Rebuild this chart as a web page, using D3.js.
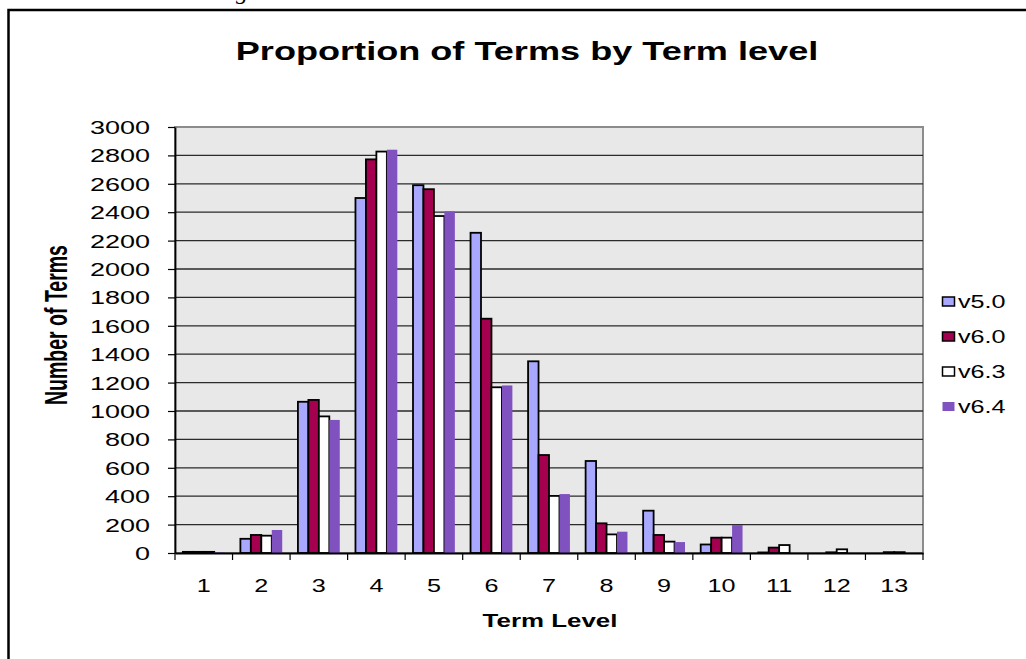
<!DOCTYPE html>
<html>
<head>
<meta charset="utf-8">
<script src="https://cdn.jsdelivr.net/npm/d3@7"></script>
<style>
  html, body { margin: 0; padding: 0; background: #ffffff; }
  svg { display: block; font-family: Arial, "Liberation Sans", sans-serif; }
</style>
</head>
<body>
<svg id="chart" width="1026" height="659"></svg>
<script>
// ---- data ----
const levels = ["1","2","3","4","5","6","7","8","9","10","11","12","13"];
const seriesNames = ["v5.0","v6.0","v6.3","v6.4"];
const v50 = [8, 100, 1065, 2500, 2590, 2255, 1350, 648, 298, 60, 4, 0, 0];
const v60 = [8, 127, 1078, 2772, 2562, 1650, 690, 209, 127, 108, 38, 5, 6];
const v63 = [8, 122, 962, 2827, 2373, 1167, 402, 131, 80, 108, 56, 26, 6];
const v64 = [4, 162, 937, 2840, 2406, 1180, 415, 150, 77, 197, 0, 0, 0];
const yTicks = [0,200,400,600,800,1000,1200,1400,1600,1800,2000,2200,2400,2600,2800,3000];
const titleText = "Proportion of Terms by Term level";
const xTitle = "Term Level";
const yTitle = "Number of Terms";

const seriesValues = [v50, v60, v63, v64];
const colors = ["#a8a8ff", "#a5004f", "#ffffff", "#8052bf"];
const outlined = [true, true, true, false];

const SX = 1.4;   // horizontal stretch of the reference picture's text
const SXT = 1.5;  // stretch for y tick labels

const svg = d3.select("#chart");

// outer frame (extends past the window)
svg.append("rect")
  .attr("x", 8.5).attr("y", 10).attr("width", 1100).attr("height", 700)
  .attr("fill", "none").attr("stroke", "#000").attr("stroke-width", 2.5);

// clipped caption letter at top
svg.append("text")
  .attr("transform", "translate(236,-1) scale(1.2,1)")
  .attr("font-family", "'Liberation Serif', 'DejaVu Serif', serif")
  .attr("font-style", "italic")
  .attr("font-size", 20)
  .text("g");

const plot = { left: 175, right: 923, top: 127, bottom: 553 };

const x = d3.scaleBand().domain(levels)
  .range([plot.left, plot.right])
  .paddingInner(1.5 / 5.5).paddingOuter(0.75 / 5.5);
const xb = d3.scaleBand().domain(levels).range([plot.left, plot.right]).padding(0);
const xs = d3.scaleBand().domain(seriesNames).range([0, x.bandwidth()]).padding(0);
const y = d3.scaleLinear().domain([0, 3000]).range([plot.bottom, plot.top]);

// plot background
svg.append("rect")
  .attr("x", plot.left).attr("y", plot.top)
  .attr("width", plot.right - plot.left).attr("height", plot.bottom - plot.top)
  .attr("fill", "#e8e8e8").attr("stroke", "#8c8c8c").attr("stroke-width", 2);

// gridlines
svg.append("g").selectAll("line")
  .data(yTicks.filter(t => t > 0 && t < 3000))
  .join("line")
  .attr("x1", plot.left).attr("x2", plot.right)
  .attr("y1", d => y(d)).attr("y2", d => y(d))
  .attr("stroke", "#2a2a2a").attr("stroke-width", 1.3);

// bars
const groups = svg.append("g").selectAll("g")
  .data(seriesNames)
  .join("g");
groups.each(function(name, si) {
  const data = levels.map((lv, i) => ({ lv, v: seriesValues[si][i] })).filter(d => d.v > 0);
  d3.select(this).selectAll("rect")
    .data(data)
    .join("rect")
    .attr("x", d => x(d.lv) + xs(name))
    .attr("width", xs.bandwidth())
    .attr("y", d => y(d.v))
    .attr("height", d => y(0) - y(d.v))
    .attr("fill", colors[si])
    .attr("stroke", outlined[si] ? "#000" : "none")
    .attr("stroke-width", 1.8);
});

// y axis
const yAxis = svg.append("g")
  .attr("transform", `translate(${plot.left},0)`)
  .call(d3.axisLeft(y).tickValues(yTicks).tickSize(7).tickSizeOuter(0).tickFormat(d3.format("d")));
yAxis.select(".domain").attr("stroke", "#000").attr("stroke-width", 1.8);
yAxis.selectAll(".tick line").attr("stroke", "#000").attr("stroke-width", 1.2);
yAxis.selectAll(".tick text")
  .attr("font-size", 18).attr("fill", "#000")
  .attr("font-family", "Arial, 'Liberation Sans', sans-serif")
  .attr("x", -25 / SXT).attr("dy", "0.36em")
  .attr("transform", `scale(${SXT},1)`);

// x axis
const xAxis = svg.append("g")
  .attr("transform", `translate(0,${plot.bottom})`)
  .call(d3.axisBottom(xb).tickSize(0).tickSizeOuter(0));
xAxis.select(".domain").attr("stroke", "#000").attr("stroke-width", 1.8);
xAxis.selectAll(".tick text")
  .attr("font-size", 18).attr("fill", "#000")
  .attr("font-family", "Arial, 'Liberation Sans', sans-serif")
  .attr("y", 0).attr("dy", 0)
  .attr("transform", `translate(0,39) scale(${SX},1)`);
// category boundary tick marks
svg.append("g").selectAll("line")
  .data(levels.concat(["end"]))
  .join("line")
  .attr("x1", (d, i) => i < levels.length ? xb(d) : plot.right)
  .attr("x2", (d, i) => i < levels.length ? xb(d) : plot.right)
  .attr("y1", plot.bottom).attr("y2", plot.bottom + 7)
  .attr("stroke", "#000").attr("stroke-width", 1.2);

// title
svg.append("text")
  .attr("transform", `translate(527,60) scale(${SX},1)`)
  .attr("text-anchor", "middle")
  .attr("font-size", 25.8).attr("font-weight", "bold")
  .text(titleText);

// x title
svg.append("text")
  .attr("transform", `translate(550,627) scale(${SX},1)`)
  .attr("text-anchor", "middle")
  .attr("font-size", 18.5).attr("font-weight", "bold")
  .text(xTitle);

// y title
svg.append("text")
  .attr("transform", `translate(67,325) scale(1.6,1) rotate(-90)`)
  .attr("text-anchor", "middle")
  .attr("font-size", 19.5).attr("font-weight", "bold")
  .text(yTitle);

// legend
const legend = svg.append("g").selectAll("g")
  .data(seriesNames)
  .join("g")
  .attr("transform", (d, i) => `translate(942,${301.5 + i * 35})`);
legend.append("rect")
  .attr("x", 0.5).attr("y", -4.5).attr("width", 12).attr("height", 9)
  .attr("fill", (d, i) => colors[i])
  .attr("stroke", (d, i) => outlined[i] ? "#000" : "none")
  .attr("stroke-width", 1.5);
legend.append("text")
  .attr("transform", `translate(16,6) scale(${SX},1)`)
  .attr("font-size", 18)
  .text(d => d);
</script>
</body>
</html>
